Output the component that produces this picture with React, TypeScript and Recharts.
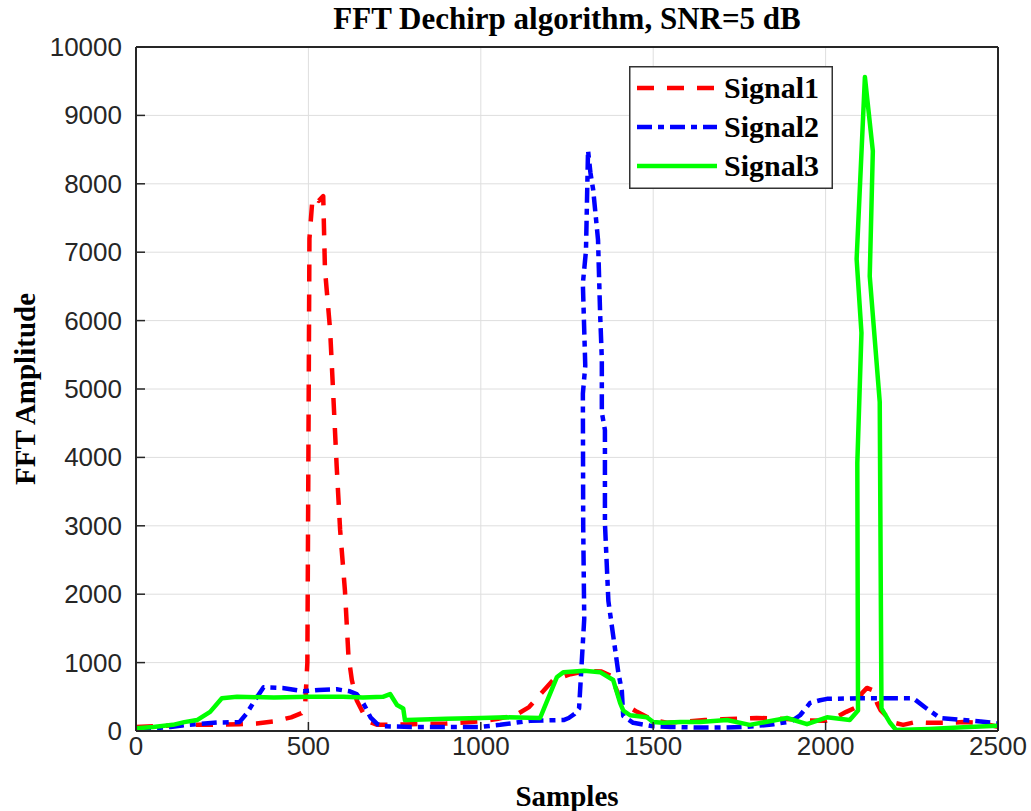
import React from "react";
import { LineChart, Line, XAxis, YAxis, CartesianGrid, Legend } from "recharts";

// Samples (x) and FFT amplitude (y) for each signal
const signal1X = [0, 50, 100, 150, 200, 250, 300, 350, 400, 450, 480, 490, 497, 500, 503, 512, 530, 543, 548, 563, 572, 582, 592, 606, 616, 626, 640, 660, 680, 700, 750, 800, 900, 1000, 1050, 1100, 1140, 1175, 1210, 1260, 1310, 1350, 1380, 1404, 1430, 1453, 1500, 1540, 1600, 1650, 1700, 1750, 1800, 1850, 1900, 1950, 2000, 2030, 2060, 2090, 2105, 2120, 2135, 2150, 2160, 2180, 2200, 2225, 2260, 2300, 2350, 2400, 2450, 2500];
const signal1Y = [60, 70, 80, 90, 90, 95, 100, 110, 140, 200, 260, 320, 1000, 4000, 7200, 7800, 7750, 7820, 6750, 5860, 4930, 3870, 2940, 2050, 1110, 745, 450, 250, 130, 90, 90, 100, 110, 140, 180, 230, 350, 550, 745, 830, 880, 870, 800, 450, 350, 280, 160, 120, 140, 160, 170, 180, 190, 185, 170, 155, 150, 200, 280, 350, 550, 630, 600, 400, 300, 200, 120, 90, 130, 120, 120, 130, 120, 60];

const signal2X = [0, 50, 100, 150, 200, 240, 300, 320, 345, 370, 425, 485, 530, 582, 620, 640, 660, 680, 700, 720, 800, 900, 1000, 1056, 1143, 1240, 1255, 1272, 1285, 1300, 1297, 1296, 1303, 1296, 1305, 1311, 1318, 1326, 1340, 1346, 1351, 1351, 1360, 1360, 1370, 1399, 1409, 1413, 1442, 1500, 1550, 1636, 1700, 1772, 1850, 1900, 1926, 1955, 1984, 2004, 2100, 2254, 2290, 2332, 2400, 2450, 2500];
const signal2Y = [30, 40, 60, 90, 110, 125, 130, 250, 450, 640, 630, 580, 600, 610, 580, 540, 400, 200, 100, 70, 60, 60, 60, 90, 150, 160, 190, 250, 330, 1640, 3000, 4930, 5340, 6540, 7020, 8490, 8160, 7910, 7180, 6110, 5440, 4660, 4400, 3040, 1900, 850, 590, 220, 120, 70, 60, 50, 50, 60, 100, 140, 230, 410, 450, 470, 480, 480, 340, 190, 160, 140, 110];

const signal3X = [0, 50, 107, 140, 177, 215, 249, 293, 400, 500, 600, 658, 716, 737, 757, 775, 780, 786, 900, 1000, 1075, 1172, 1181, 1221, 1240, 1300, 1346, 1384, 1404, 1413, 1433, 1482, 1500, 1529, 1578, 1636, 1714, 1780, 1888, 1946, 2004, 2070, 2094, 2092, 2104, 2090, 2114, 2137, 2128, 2157, 2162, 2187, 2204, 2300, 2400, 2500];
const signal3Y = [40, 60, 90, 130, 160, 280, 480, 500, 490, 500, 500, 490, 500, 540, 380, 330, 160, 160, 180, 190, 200, 190, 300, 790, 860, 880, 860, 745, 410, 300, 230, 200, 130, 120, 130, 130, 160, 90, 190, 100, 200, 160, 300, 3920, 5820, 6900, 9560, 8480, 6650, 4810, 330, 120, 15, 30, 55, 75];

const xTicks = [0, 500, 1000, 1500, 2000, 2500];
const yTicks = [0, 1000, 2000, 3000, 4000, 5000, 6000, 7000, 8000, 9000, 10000];

const toPoints = (xs: number[], ys: number[]) => xs.map((x, i) => ({ x, y: ys[i] }));

const SERIES = [
  { name: "Signal1", color: "#ff0000", dash: "17 13", data: toPoints(signal1X, signal1Y) },
  { name: "Signal2", color: "#0000ff", dash: "15 6 6 6", data: toPoints(signal2X, signal2Y) },
  { name: "Signal3", color: "#00ff00", dash: undefined, data: toPoints(signal3X, signal3Y) },
];

const AXIS = "#262626";
const SANS = "'Liberation Sans', Arial, sans-serif";
const SERIF = "'Liberation Serif', 'Times New Roman', serif";

const BottomTick = ({ x, y, payload }: any) => (
  <g>
    <line x1={x} x2={x} y1={y} y2={y - 9} stroke={AXIS} strokeWidth={1.5} />
    <text x={x} y={y + 24} textAnchor="middle" fontFamily={SANS} fontSize={26} fill={AXIS}>
      {payload.value}
    </text>
  </g>
);

const LeftTick = ({ x, y, payload }: any) => (
  <g>
    <line x1={x} x2={x + 9} y1={y} y2={y} stroke={AXIS} strokeWidth={1.5} />
    <text x={x - 14} y={y + 9} textAnchor="end" fontFamily={SANS} fontSize={26} fill={AXIS}>
      {payload.value}
    </text>
  </g>
);

const TopTick = ({ x, y }: any) => (
  <line x1={x} x2={x} y1={y} y2={y + 9} stroke={AXIS} strokeWidth={1.5} />
);

const RightTick = ({ x, y }: any) => (
  <line x1={x} x2={x - 9} y1={y} y2={y} stroke={AXIS} strokeWidth={1.5} />
);

const LegendBox = () => (
  <svg width={204} height={123} style={{ display: "block" }}>
    <rect x={0.75} y={0.75} width={202.5} height={121.5} fill="#fff" stroke="#333" strokeWidth={1.5} />
    {SERIES.map((s, i) => {
      const cy = 22 + i * 39;
      return (
        <g key={s.name}>
          <line x1={8} x2={88} y1={cy} y2={cy} stroke={s.color} strokeWidth={4.5} strokeDasharray={s.dash} />
          <text x={95} y={cy + 10} fontFamily={SERIF} fontWeight="bold" fontSize={30} fill="#000">
            {s.name}
          </text>
        </g>
      );
    })}
  </svg>
);

export default function App() {
  return (
    <div style={{ position: "absolute", left: 0, top: 0, width: 1031, height: 811, background: "#fff" }}>
      <LineChart width={1031} height={811} margin={{ top: 46, right: 32, bottom: 50, left: 76 }}>
        <CartesianGrid stroke="#dedede" strokeWidth={1} />
        <XAxis
          type="number"
          dataKey="x"
          domain={[0, 2500]}
          ticks={xTicks}
          interval={0}
          height={30}
          tickSize={0}
          tickMargin={0}
          allowDataOverflow
          axisLine={{ stroke: AXIS, strokeWidth: 2 }}
          tick={<BottomTick />}
        />
        <XAxis
          xAxisId="top"
          orientation="top"
          type="number"
          domain={[0, 2500]}
          ticks={xTicks}
          interval={0}
          height={1}
          tickSize={0}
          tickMargin={0}
          axisLine={{ stroke: AXIS, strokeWidth: 2 }}
          tick={<TopTick />}
        />
        <YAxis
          type="number"
          domain={[0, 10000]}
          ticks={yTicks}
          interval={0}
          width={60}
          tickSize={0}
          tickMargin={0}
          allowDataOverflow
          axisLine={{ stroke: AXIS, strokeWidth: 2 }}
          tick={<LeftTick />}
        />
        <YAxis
          yAxisId="right"
          orientation="right"
          type="number"
          domain={[0, 10000]}
          ticks={yTicks}
          interval={0}
          width={1}
          tickSize={0}
          tickMargin={0}
          axisLine={{ stroke: AXIS, strokeWidth: 2 }}
          tick={<RightTick />}
        />
        <Legend
          layout="vertical"
          verticalAlign="middle"
          align="center"
          content={() => <LegendBox />}
          wrapperStyle={{ position: "absolute", left: 629, top: 66, width: 204, height: 123 }}
        />
        {SERIES.map((s) => (
          <Line
            key={s.name}
            data={s.data}
            dataKey="y"
            name={s.name}
            type="linear"
            stroke={s.color}
            strokeWidth={4.5}
            strokeDasharray={s.dash}
            strokeLinejoin="round"
            dot={false}
            activeDot={false}
            isAnimationActive={false}
          />
        ))}
      </LineChart>
      <svg
        width={1031}
        height={811}
        style={{ position: "absolute", left: 0, top: 0, pointerEvents: "none" }}
      >
        <text x={567} y={29} textAnchor="middle" fontFamily={SERIF} fontWeight="bold" fontSize={31} fill="#000">
          FFT Dechirp algorithm, SNR=5 dB
        </text>
        <text x={567} y={806} textAnchor="middle" fontFamily={SERIF} fontWeight="bold" fontSize={29} fill="#000">
          Samples
        </text>
        <text
          transform="translate(35, 389) rotate(-90)"
          x={0}
          y={0}
          textAnchor="middle"
          fontFamily={SERIF}
          fontWeight="bold"
          fontSize={29}
          fill="#000"
        >
          FFT Amplitude
        </text>
      </svg>
    </div>
  );
}
